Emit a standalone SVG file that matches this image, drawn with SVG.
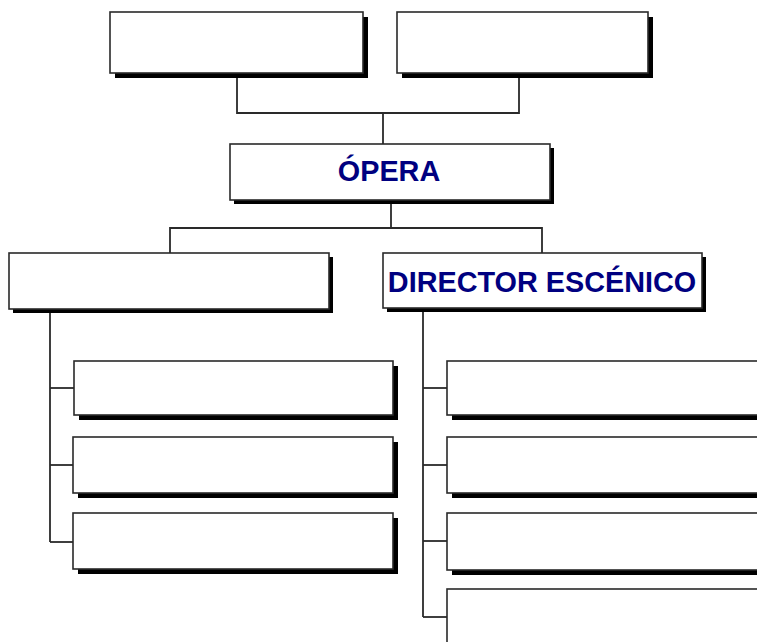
<svg xmlns="http://www.w3.org/2000/svg" width="757" height="642" viewBox="0 0 757 642">
<defs>
<style>
.sh{fill:#000}
.bx{fill:#fff;stroke:#2a2a2a;stroke-width:1.6}
.ln{fill:none;stroke:#2a2a2a;stroke-width:1.8}
.t{font-family:"Liberation Sans",Arial,sans-serif;font-weight:bold;font-size:28.8px;fill:#000080;text-anchor:middle}
</style>
</defs>
<rect width="757" height="642" fill="#fff"/>
<g id="connectors">
<path class="ln" d="M237,73 V113 H519 V74"/>
<path class="ln" d="M383,113 V144"/>
<path class="ln" d="M391,200 V228"/>
<path class="ln" d="M170,253 V228 H542 V253"/>
<path class="ln" d="M50,309 V542"/>
<path class="ln" d="M50,388 H74"/>
<path class="ln" d="M50,465 H74"/>
<path class="ln" d="M50,542 H74"/>
<path class="ln" d="M423,308 V617"/>
<path class="ln" d="M423,388 H447"/>
<path class="ln" d="M423,465 H447"/>
<path class="ln" d="M423,541 H447"/>
<path class="ln" d="M423,617 H447"/>
</g>
<g id="top-left">
<rect class="sh" x="115" y="17" width="253" height="61"/>
<rect class="bx" x="110" y="12" width="253" height="61"/>
</g>
<g id="top-right">
<rect class="sh" x="402" y="17" width="251" height="61"/>
<rect class="bx" x="397" y="12" width="251" height="61"/>
</g>
<g id="opera">
<rect class="sh" x="234" y="148" width="320" height="56"/>
<rect class="bx" x="230" y="144" width="320" height="56"/>
<text class="t" x="389" y="181">ÓPERA</text>
</g>
<g id="mid-left">
<rect class="sh" x="13" y="257" width="320" height="56"/>
<rect class="bx" x="9" y="253" width="320" height="56"/>
</g>
<g id="director">
<rect class="sh" x="387" y="257" width="319" height="55"/>
<rect class="bx" x="383" y="253" width="319" height="55"/>
<text class="t" x="542" y="292">DIRECTOR ESCÉNICO</text>
</g>
<g id="left-1">
<rect class="sh" x="79" y="366" width="319" height="54"/>
<rect class="bx" x="74" y="361" width="319" height="54"/>
</g>
<g id="left-2">
<rect class="sh" x="78" y="442" width="320" height="56"/>
<rect class="bx" x="73" y="437" width="320" height="56"/>
</g>
<g id="left-3">
<rect class="sh" x="78" y="518" width="320" height="56"/>
<rect class="bx" x="73" y="513" width="320" height="56"/>
</g>
<g id="right-1">
<rect class="sh" x="452" y="366" width="320" height="54"/>
<rect class="bx" x="447" y="361" width="320" height="54"/>
</g>
<g id="right-2">
<rect class="sh" x="452" y="442" width="320" height="56"/>
<rect class="bx" x="447" y="437" width="320" height="56"/>
</g>
<g id="right-3">
<rect class="sh" x="452" y="518" width="320" height="57"/>
<rect class="bx" x="447" y="513" width="320" height="57"/>
</g>
<g id="right-4">
<rect class="sh" x="452" y="594" width="320" height="60"/>
<rect class="bx" x="447" y="589" width="320" height="60"/>
</g>
</svg>
